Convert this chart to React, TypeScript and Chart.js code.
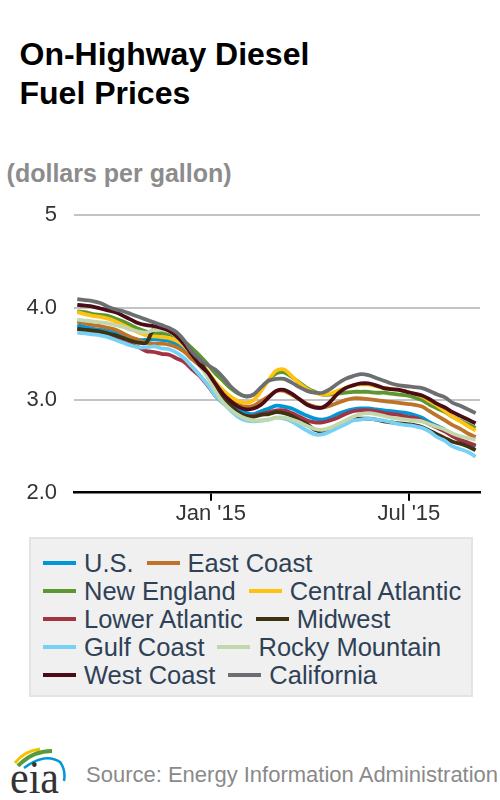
import React, { useEffect, useRef } from 'react';
import { Chart, registerables } from 'chart.js';

Chart.register(...registerables);

const FONT = '"Liberation Sans", Arial, Helvetica, sans-serif';

// Weekly observation dates
const weekDates = [
  '2014-09-01', '2014-09-08', '2014-09-15', '2014-09-22', '2014-09-29',
  '2014-10-06', '2014-10-13', '2014-10-20', '2014-10-27',
  '2014-11-03', '2014-11-10', '2014-11-17', '2014-11-24',
  '2014-12-01', '2014-12-08', '2014-12-15', '2014-12-22', '2014-12-29',
  '2015-01-05', '2015-01-12', '2015-01-19', '2015-01-26',
  '2015-02-02', '2015-02-09', '2015-02-16', '2015-02-23',
  '2015-03-02', '2015-03-09', '2015-03-16', '2015-03-23', '2015-03-30',
  '2015-04-06', '2015-04-13', '2015-04-20', '2015-04-27',
  '2015-05-04', '2015-05-11', '2015-05-18', '2015-05-25',
  '2015-06-01', '2015-06-08', '2015-06-15', '2015-06-22', '2015-06-29',
  '2015-07-06', '2015-07-13', '2015-07-20', '2015-07-27',
  '2015-08-03', '2015-08-10', '2015-08-17', '2015-08-24', '2015-08-31',
];

const seriesNames = [
  'U.S.', 'East Coast', 'New England', 'Central Atlantic', 'Lower Atlantic',
  'Midwest', 'Gulf Coast', 'Rocky Mountain', 'West Coast', 'California',
];

const seriesColors = [
  '#0096d7', '#bd732a', '#5d9732', '#ffc20e', '#a33340',
  '#3d3212', '#76d1f5', '#c3d7ad', '#4a0d17', '#6d6e71',
];

const usPrices = [
  3.81, 3.79, 3.77, 3.76, 3.75, 3.73, 3.70, 3.67, 3.65, 3.65, 3.66, 3.65, 3.64,
  3.60, 3.55, 3.46, 3.39, 3.28, 3.15, 3.05, 2.97, 2.90, 2.86, 2.85, 2.88, 2.91,
  2.94, 2.93, 2.91, 2.87, 2.83, 2.80, 2.79, 2.81, 2.85, 2.88, 2.90, 2.91, 2.91,
  2.90, 2.89, 2.88, 2.87, 2.86, 2.84, 2.81, 2.76, 2.72, 2.68, 2.62, 2.57, 2.54, 2.50,
];
const eastCoastPrices = [
  3.85, 3.83, 3.81, 3.80, 3.78, 3.76, 3.72, 3.68, 3.65, 3.62, 3.61, 3.61, 3.60,
  3.57, 3.52, 3.44, 3.37, 3.27, 3.16, 3.07, 3.00, 2.95, 2.93, 2.94, 2.99, 3.04,
  3.10, 3.10, 3.06, 3.01, 2.96, 2.93, 2.92, 2.94, 2.97, 3.00, 3.02, 3.02, 3.01,
  3.00, 2.99, 2.98, 2.97, 2.96, 2.95, 2.93, 2.88, 2.83, 2.78, 2.73, 2.69, 2.64, 2.60,
];
const newEnglandPrices = [
  3.96, 3.95, 3.93, 3.92, 3.91, 3.88, 3.85, 3.81, 3.77, 3.74, 3.72, 3.72, 3.71,
  3.68, 3.63, 3.56, 3.48, 3.39, 3.29, 3.21, 3.13, 3.07, 3.04, 3.06, 3.13, 3.22,
  3.29, 3.30, 3.25, 3.19, 3.13, 3.09, 3.06, 3.06, 3.07, 3.08, 3.09, 3.09, 3.09,
  3.08, 3.08, 3.07, 3.06, 3.05, 3.03, 3.00, 2.95, 2.91, 2.87, 2.82, 2.78, 2.74, 2.70,
];
const centralAtlanticPrices = [
  3.95, 3.93, 3.91, 3.90, 3.88, 3.85, 3.81, 3.77, 3.73, 3.70, 3.69, 3.68, 3.67,
  3.64, 3.58, 3.50, 3.42, 3.31, 3.20, 3.11, 3.04, 2.99, 2.97, 3.00, 3.10, 3.22,
  3.32, 3.33, 3.26, 3.18, 3.12, 3.08, 3.06, 3.07, 3.10, 3.13, 3.16, 3.17, 3.17,
  3.15, 3.13, 3.12, 3.11, 3.09, 3.07, 3.04, 2.99, 2.94, 2.88, 2.82, 2.77, 2.72, 2.67,
];
const lowerAtlanticPrices = [
  3.77, 3.75, 3.73, 3.72, 3.70, 3.67, 3.63, 3.60, 3.57, 3.53, 3.52, 3.50, 3.49,
  3.45, 3.41, 3.33, 3.26, 3.16, 3.05, 2.97, 2.91, 2.86, 2.83, 2.83, 2.85, 2.87,
  2.89, 2.89, 2.86, 2.82, 2.78, 2.76, 2.76, 2.78, 2.81, 2.85, 2.88, 2.89, 2.89,
  2.88, 2.86, 2.85, 2.84, 2.82, 2.81, 2.78, 2.74, 2.70, 2.66, 2.61, 2.57, 2.54, 2.51,
];
const midwestPrices = [
  3.77, 3.76, 3.75, 3.74, 3.72, 3.70, 3.67, 3.64, 3.62, 3.62, 3.77, 3.76, 3.74,
  3.68, 3.62, 3.50, 3.42, 3.28, 3.12, 3.02, 2.94, 2.87, 2.83, 2.82, 2.84, 2.85,
  2.87, 2.86, 2.83, 2.78, 2.74, 2.68, 2.66, 2.68, 2.71, 2.75, 2.79, 2.80, 2.80,
  2.79, 2.77, 2.76, 2.75, 2.74, 2.73, 2.71, 2.67, 2.63, 2.59, 2.55, 2.53, 2.50, 2.46,
];
const gulfCoastPrices = [
  3.73, 3.72, 3.71, 3.70, 3.68, 3.65, 3.62, 3.59, 3.57, 3.57, 3.58, 3.56, 3.55,
  3.51, 3.45, 3.36, 3.27, 3.17, 3.05, 2.97, 2.89, 2.82, 2.78, 2.77, 2.78, 2.79,
  2.81, 2.80, 2.77, 2.72, 2.67, 2.63, 2.63, 2.66, 2.70, 2.74, 2.78, 2.79, 2.80,
  2.79, 2.78, 2.76, 2.74, 2.73, 2.72, 2.70, 2.66, 2.60, 2.56, 2.50, 2.47, 2.44, 2.39,
];
const rockyMountainPrices = [
  3.87, 3.86, 3.85, 3.84, 3.83, 3.81, 3.79, 3.76, 3.74, 3.73, 3.76, 3.76, 3.74,
  3.68, 3.60, 3.50, 3.38, 3.25, 3.10, 2.98, 2.90, 2.84, 2.80, 2.78, 2.78, 2.79,
  2.81, 2.81, 2.79, 2.76, 2.72, 2.69, 2.68, 2.70, 2.74, 2.78, 2.82, 2.85, 2.86,
  2.85, 2.83, 2.81, 2.80, 2.79, 2.78, 2.77, 2.74, 2.71, 2.68, 2.64, 2.61, 2.59, 2.57,
];
const westCoastPrices = [
  4.03, 4.02, 4.01, 3.99, 3.97, 3.95, 3.91, 3.87, 3.83, 3.81, 3.80, 3.78, 3.75,
  3.69, 3.60, 3.49, 3.38, 3.30, 3.18, 3.07, 2.99, 2.93, 2.90, 2.91, 2.95, 3.03,
  3.10, 3.11, 3.07, 3.01, 2.95, 2.92, 2.92, 2.98, 3.07, 3.13, 3.16, 3.18, 3.18,
  3.16, 3.13, 3.12, 3.11, 3.09, 3.07, 3.05, 3.01, 2.96, 2.92, 2.87, 2.83, 2.79, 2.75,
];
const californiaPrices = [
  4.09, 4.08, 4.07, 4.05, 4.01, 3.98, 3.96, 3.93, 3.90, 3.87, 3.84, 3.81, 3.78,
  3.73, 3.64, 3.52, 3.44, 3.38, 3.33, 3.25, 3.15, 3.08, 3.04, 3.06, 3.14, 3.21,
  3.23, 3.23, 3.19, 3.14, 3.10, 3.08, 3.08, 3.12, 3.18, 3.23, 3.26, 3.28, 3.27,
  3.24, 3.21, 3.18, 3.16, 3.15, 3.14, 3.13, 3.10, 3.06, 3.03, 2.97, 2.94, 2.90, 2.86,
];

const seriesValues = [
  usPrices, eastCoastPrices, newEnglandPrices, centralAtlanticPrices, lowerAtlanticPrices,
  midwestPrices, gulfCoastPrices, rockyMountainPrices, westCoastPrices, californiaPrices,
];

const xRange = ['2014-08-29', '2015-09-04'];
const xTickDates = ['2015-01-01', '2015-07-01'];
const xTickLabels = ["Jan '15", "Jul '15"];
const yMin = 2;
const yMax = 5;
const yTickValues = [2, 3, 4, 5];
const yTickLabels = ['2.0', '3.0', '4.0', '5'];

const legendRows = [[0, 1], [2, 3], [4, 5], [6, 7], [8, 9]];

const DAY_MS = 86400000;
const ORIGIN = Date.UTC(2015, 0, 1);
const toDay = (s: string) => {
  const [y, m, d] = s.split('-').map(Number);
  return Math.round((Date.UTC(y, m - 1, d) - ORIGIN) / DAY_MS);
};

function PriceChart() {
  const ref = useRef<HTMLCanvasElement>(null);

  useEffect(() => {
    const canvas = ref.current;
    if (!canvas) return;
    const xDays = weekDates.map(toDay);
    const tickDays = xTickDates.map(toDay);

    const chart = new Chart(canvas, {
      type: 'line',
      data: {
        datasets: seriesValues.map((vals, i) => ({
          label: seriesNames[i],
          data: vals.map((v, j) => ({ x: xDays[j], y: v })),
          borderColor: seriesColors[i],
          backgroundColor: seriesColors[i],
          borderWidth: 3.8,
          pointRadius: 0,
          pointHoverRadius: 0,
          tension: 0.3,
          fill: false,
          order: seriesNames.length - i,
        })),
      },
      options: {
        animation: false,
        responsive: false,
        events: [],
        layout: { padding: { top: 15, right: 20, left: 0, bottom: 0 } },
        plugins: {
          legend: { display: false },
          tooltip: { enabled: false },
          title: { display: false },
        },
        scales: {
          x: {
            type: 'linear',
            min: toDay(xRange[0]),
            max: toDay(xRange[1]),
            afterBuildTicks: (s: any) => {
              s.ticks = tickDays.map((v) => ({ value: v }));
            },
            afterFit: (s: any) => {
              s.height = 37.3;
              s.paddingLeft = 0;
              s.paddingRight = 0;
              s.paddingTop = 0;
              s.paddingBottom = 0;
            },
            ticks: {
              callback: (v: any) => {
                const k = tickDays.indexOf(Number(v));
                return k >= 0 ? xTickLabels[k] : '';
              },
              font: { family: FONT, size: 22 },
              color: '#333333',
              padding: 0,
              maxRotation: 0,
              autoSkip: false,
            },
            grid: {
              drawOnChartArea: false,
              drawTicks: true,
              tickLength: 8,
              color: '#000000',
              lineWidth: 2,
            },
            border: { display: true, color: '#000000', width: 2.5 },
          },
          y: {
            type: 'linear',
            min: yMin,
            max: yMax,
            afterBuildTicks: (s: any) => {
              s.ticks = yTickValues.map((v) => ({ value: v }));
            },
            afterFit: (s: any) => {
              s.width = 74;
              s.paddingLeft = 0;
              s.paddingRight = 0;
              s.paddingTop = 0;
              s.paddingBottom = 0;
            },
            ticks: {
              callback: (v: any) => {
                const k = yTickValues.indexOf(Number(v));
                return k >= 0 ? yTickLabels[k] : '';
              },
              font: { family: FONT, size: 22 },
              color: '#333333',
              padding: 17,
            },
            grid: {
              color: (ctx: any) =>
                ctx.tick && ctx.tick.value === yMin ? 'rgba(0,0,0,0)' : '#c4c4c4',
              lineWidth: 2,
              drawTicks: false,
            },
            border: { display: false },
          },
        },
      },
    } as any);

    return () => chart.destroy();
  }, []);

  return (
    <canvas
      ref={ref}
      width={500}
      height={330}
      style={{ position: 'absolute', left: 0, top: 200, width: 500, height: 330 }}
    />
  );
}

function Legend() {
  return (
    <div
      style={{
        position: 'absolute',
        left: 29,
        top: 537,
        width: 444,
        height: 160,
        boxSizing: 'border-box',
        background: '#f0f0f0',
        border: '2px solid #e3e3e3',
      }}
    >
      {legendRows.map((row, r) => (
        <div
          key={r}
          style={{
            position: 'absolute',
            left: 12,
            top: 10 + r * 28.1,
            height: 28,
            display: 'flex',
            alignItems: 'center',
            whiteSpace: 'nowrap',
          }}
        >
          {row.map((idx, k) => (
            <div
              key={idx}
              style={{ display: 'flex', alignItems: 'center', marginLeft: k ? 13 : 0 }}
            >
              <span
                style={{
                  display: 'inline-block',
                  width: 33,
                  height: 4,
                  background: seriesColors[idx],
                  marginRight: 8,
                }}
              />
              <span
                style={{
                  fontFamily: FONT,
                  fontSize: 25.5,
                  lineHeight: '28px',
                  color: '#2f4156',
                }}
              >
                {seriesNames[idx]}
              </span>
            </div>
          ))}
        </div>
      ))}
    </div>
  );
}

function EiaLogo() {
  return (
    <svg
      width={80}
      height={60}
      viewBox="0 0 80 60"
      style={{ position: 'absolute', left: 0, top: 740 }}
    >
      <path d="M15 23 Q24 11 40 9" stroke="#f2c200" strokeWidth={3} fill="none" />
      <path d="M18 26 Q32 11 52 11" stroke="#5a9a3a" strokeWidth={4} fill="none" />
      <path d="M24 28 Q45 12 60 22 Q66 30 64 41" stroke="#0096d7" strokeWidth={2.5} fill="none" />
      <text
        x={10}
        y={53}
        fontFamily='"Liberation Serif", "DejaVu Serif", serif'
        fontSize={46}
        fill="#333333"
        textLength={49}
        lengthAdjust="spacingAndGlyphs"
      >
        eia
      </text>
    </svg>
  );
}

export default function App() {
  return (
    <div
      style={{
        position: 'absolute',
        left: 0,
        top: 0,
        width: 500,
        height: 800,
        overflow: 'hidden',
        background: '#ffffff',
        fontFamily: FONT,
      }}
    >
      <div
        style={{
          position: 'absolute',
          left: 19.5,
          top: 35.4,
          fontSize: 32,
          fontWeight: 'bold',
          lineHeight: '39px',
          color: '#000000',
          whiteSpace: 'nowrap',
        }}
      >
        <div>On-Highway Diesel</div>
        <div>Fuel Prices</div>
      </div>
      <div
        style={{
          position: 'absolute',
          left: 6.6,
          top: 160.5,
          fontSize: 25,
          fontWeight: 'bold',
          lineHeight: '25px',
          color: '#8c8c8c',
          whiteSpace: 'nowrap',
        }}
      >
        (dollars per gallon)
      </div>
      <PriceChart />
      <Legend />
      <EiaLogo />
      <div
        style={{
          position: 'absolute',
          left: 86,
          top: 764,
          fontSize: 22,
          lineHeight: '22px',
          color: '#8a8a8a',
          whiteSpace: 'nowrap',
        }}
      >
        Source: Energy Information Administration
      </div>
    </div>
  );
}
